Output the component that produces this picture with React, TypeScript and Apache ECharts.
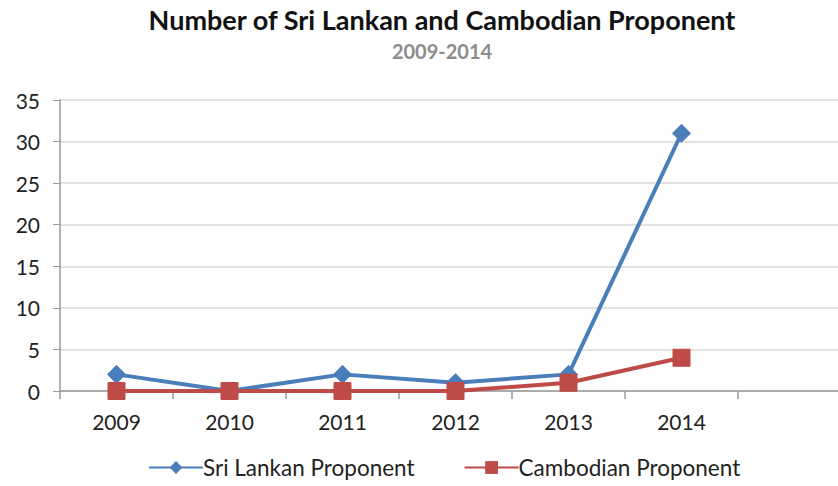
import React, { useEffect, useRef } from "react";
import * as echarts from "echarts";

const categories = ["2009", "2010", "2011", "2012", "2013", "2014", ""];
const sriLankan = [2, 0, 2, 1, 2, 31];
const cambodian = [0, 0, 0, 0, 1, 4];
const yTicks = { min: 0, max: 35, interval: 5 };

const FONT = "Lato, 'Open Sans', sans-serif";

export default function App() {
  const ref = useRef<HTMLDivElement>(null);
  useEffect(() => {
    if (!ref.current) return;
    const chart = echarts.init(ref.current, null, { renderer: "svg" });
    chart.setOption({
      animation: false,
      backgroundColor: "#ffffff",
      title: {
        text: "Number of Sri Lankan and Cambodian Proponent",
        subtext: "2009-2014",
        left: 437,
        textAlign: "center",
        top: 1,
        itemGap: 8,
        textStyle: { fontFamily: FONT, fontSize: 27, fontWeight: "bold", color: "#111" },
        subtextStyle: { fontFamily: FONT, fontSize: 20, fontWeight: "bold", color: "#8c8c8c" },
      },
      legend: {
        bottom: 2,
        left: 143,
        itemWidth: 54,
        itemHeight: 16,
        itemGap: 49,
        textStyle: { fontFamily: FONT, fontSize: 22.5, color: "#222", padding: [0, 0, 0, -5] },
        data: ["Sri Lankan Proponent", "Cambodian Proponent"],
      },
      grid: { left: 60, top: 100, bottom: 95, right: 0, containLabel: false },
      xAxis: {
        type: "category",
        data: categories,
        boundaryGap: true,
        axisLine: { lineStyle: { color: "#9a9a9a", width: 1.5 } },
        axisTick: { show: true, length: 8, lineStyle: { color: "#9a9a9a", width: 1.5 } },
        axisLabel: { fontFamily: FONT, fontSize: 21, color: "#222", margin: 20 },
      },
      yAxis: {
        type: "value",
        min: yTicks.min,
        max: yTicks.max,
        interval: yTicks.interval,
        axisLine: { show: true, lineStyle: { color: "#9a9a9a", width: 1.5 } },
        axisTick: { show: true, length: 7, lineStyle: { color: "#9a9a9a" } },
        splitLine: { lineStyle: { color: "#d9d9d9", width: 1.5 } },
        axisLabel: { fontFamily: FONT, fontSize: 21, color: "#222", margin: 20 },
      },
      series: [
        {
          name: "Sri Lankan Proponent",
          type: "line",
          data: sriLankan,
          symbol: "diamond",
          symbolSize: 18,
          z: 2,
          lineStyle: { color: "#4a7ebb", width: 4 },
          itemStyle: { color: "#4a7ebb", borderColor: "#4a7ebb" },
        },
        {
          name: "Cambodian Proponent",
          type: "line",
          data: cambodian,
          symbol: "rect",
          symbolSize: 17,
          z: 3,
          lineStyle: { color: "#be4b48", width: 4 },
          itemStyle: { color: "#be4b48", borderColor: "#be4b48" },
        },
      ],
    });
    return () => chart.dispose();
  }, []);
  return (
    <div style={{ position: "absolute", left: 0, top: 0, width: 838, height: 486, overflow: "hidden" }}>
      <div ref={ref} style={{ width: 851, height: 486 }} />
    </div>
  );
}
